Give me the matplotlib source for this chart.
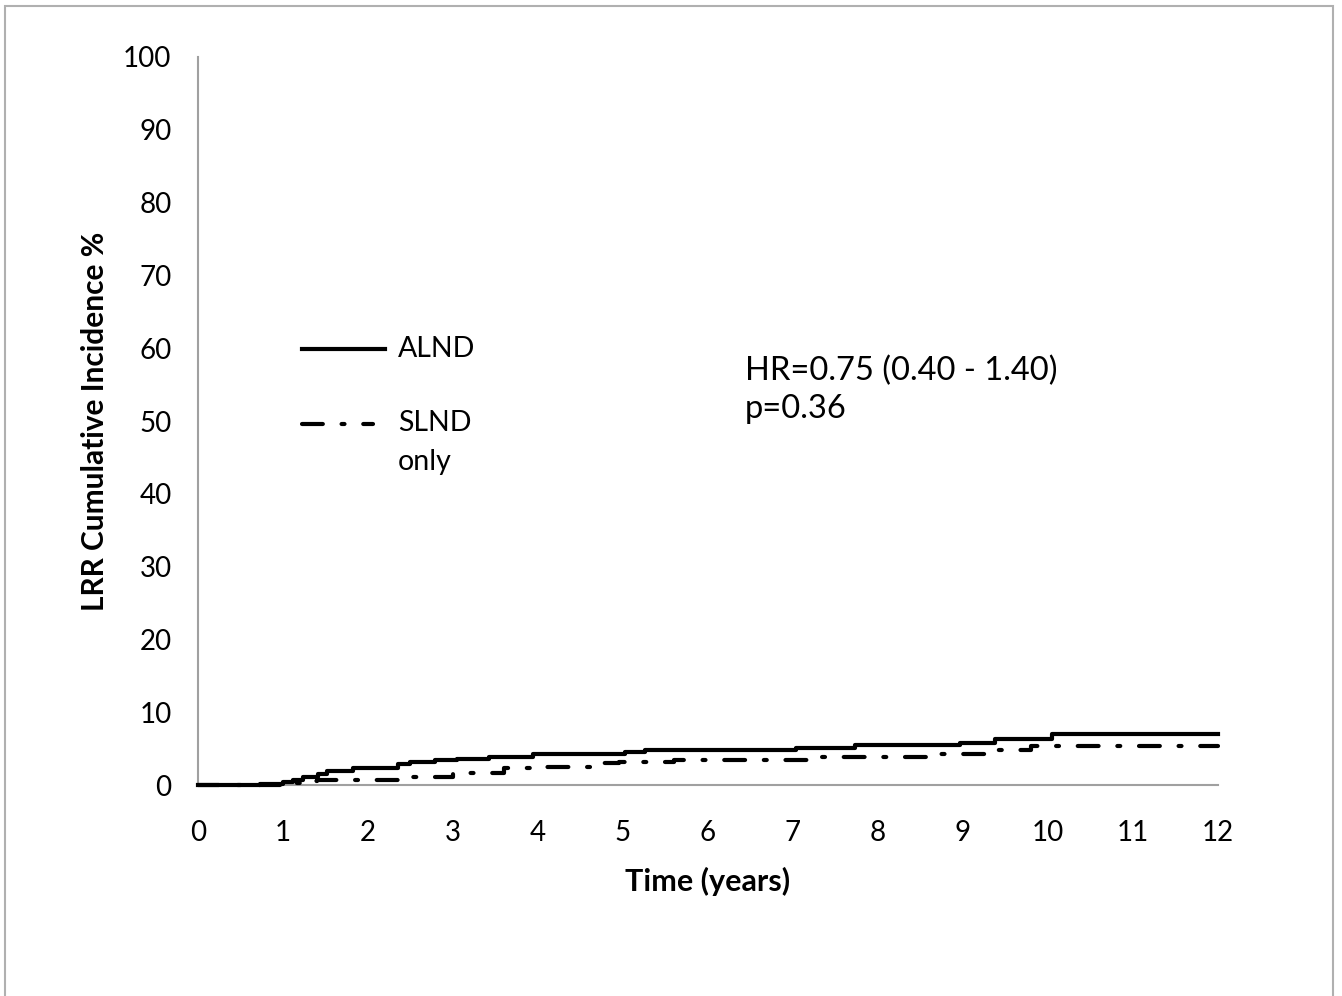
import matplotlib.pyplot as plt
from matplotlib.lines import Line2D
from matplotlib.patches import Rectangle

plt.rcParams['font.family'] = ['Lato', 'DejaVu Sans']

# step curves (time in years, cumulative incidence %)
alnd_t = [0, 0.73, 1.0, 1.12, 1.24, 1.41, 1.52, 1.82, 2.35, 2.5, 2.79, 3.05,
          3.42, 3.94, 5.02, 5.26, 7.04, 7.73, 8.96, 9.38, 10.05, 12.0]
alnd_y = [0, 0.2, 0.45, 0.7, 1.1, 1.5, 1.9, 2.3, 2.9, 3.1, 3.4, 3.6,
          3.9, 4.2, 4.5, 4.8, 5.1, 5.5, 5.8, 6.3, 7.0, 7.0]

slnd_t = [0, 1.15, 1.3, 1.4, 2.5, 3.0, 3.6, 4.1, 4.73, 4.95, 5.6, 7.24,
          8.6, 9.3, 9.8, 12.0]
slnd_y = [0, 0.3, 0.6, 0.7, 1.1, 1.7, 2.3, 2.5, 3.0, 3.2, 3.5, 3.9,
          4.3, 4.8, 5.3, 5.3]

xticks = list(range(0, 13))
yticks = list(range(0, 101, 10))

dash = (5.0, 4.5, 0.7, 4.5)

fig = plt.figure(figsize=(13.42, 9.96), dpi=100)
ax = fig.add_axes([0.1475, 0.2118, 0.7601, 0.731])

ax.step(alnd_t, alnd_y, where='post', color='black', lw=3, zorder=4, clip_on=False)
ax.step(slnd_t, slnd_y, where='post', color='black', lw=3, zorder=3,
        dashes=dash, dash_capstyle='round', clip_on=False)

ax.set_xlim(0, 12)
ax.set_ylim(0, 100)
ax.set_xticks(xticks)
ax.set_yticks(yticks)
ax.tick_params(length=0, labelsize=20)
ax.tick_params(axis='x', pad=25)
ax.tick_params(axis='y', pad=19)
for s in ['top', 'right']:
    ax.spines[s].set_visible(False)
for s in ['left', 'bottom']:
    ax.spines[s].set_color('#a0a0a0')
    ax.spines[s].set_linewidth(1.5)

ax.set_xlabel('Time (years)', fontsize=22, fontweight='bold', labelpad=15)
ax.set_ylabel('LRR Cumulative Incidence %', fontsize=21.5, fontweight='bold', labelpad=10)

# legend drawn by hand so the handle sits on the first line of the label
ax.add_line(Line2D([0.102, 0.183], [0.599, 0.599], transform=ax.transAxes,
                   color='black', lw=3))
ax.add_line(Line2D([0.102, 0.172], [0.496, 0.496], transform=ax.transAxes,
                   color='black', lw=3, dashes=dash, dash_capstyle='round'))
ax.text(0.196, 0.599, 'ALND', transform=ax.transAxes, fontsize=20.5, va='center')
ax.text(0.196, 0.515, 'SLND\nonly', transform=ax.transAxes, fontsize=20.5,
        va='top', linespacing=1.6)

ax.text(0.536, 0.59, 'HR=0.75 (0.40 - 1.40)\np=0.36', transform=ax.transAxes,
        fontsize=23.5, va='top', linespacing=1.35)

fig.patches.append(Rectangle((5 / 1342, -0.05), 1328 / 1342, 1 - 6 / 996 + 0.05,
                             transform=fig.transFigure, fill=False,
                             edgecolor='#b0b0b0', lw=1.5))

fig.savefig('out.png', dpi=100)
